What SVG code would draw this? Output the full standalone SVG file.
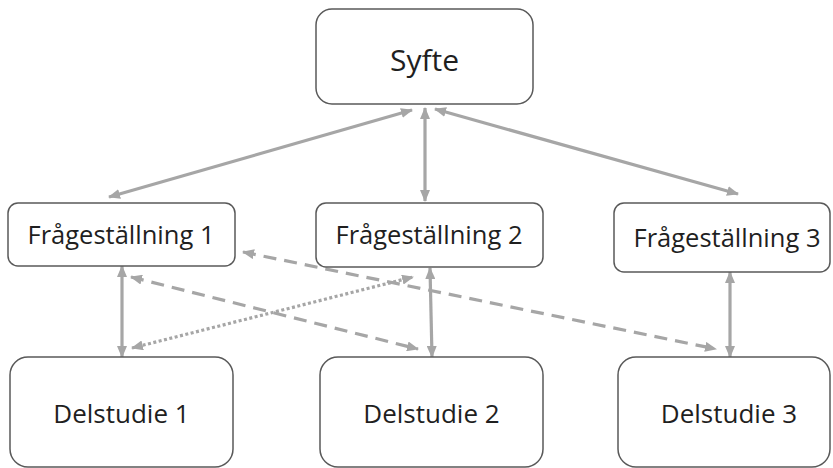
<svg xmlns="http://www.w3.org/2000/svg" width="833" height="468" viewBox="0 0 833 468">
<style>
.box{fill:#fff;stroke:#595959;stroke-width:1.5}
.lbl{font-family:"Open Sans","Noto Sans",sans-serif;fill:#1f1f1f;text-anchor:middle}
.c{fill:none;stroke:#a6a6a6;stroke-width:3.2}
.dash{stroke-dasharray:13 8}
.dot{stroke-dasharray:3 2.5}
</style>
<defs>
<marker id="ah" markerUnits="userSpaceOnUse" markerWidth="12" markerHeight="10" refX="11" refY="5" orient="auto-start-reverse">
<path d="M0,0 L12,5 L0,10 z" fill="#a6a6a6"/>
</marker>
</defs>
<g id="connectors">
<line class="c" x1="412" y1="110" x2="109" y2="197" marker-start="url(#ah)" marker-end="url(#ah)"/>
<line class="c" x1="425" y1="108" x2="425" y2="201" marker-start="url(#ah)" marker-end="url(#ah)"/>
<line class="c" x1="435" y1="109" x2="738" y2="194" marker-start="url(#ah)" marker-end="url(#ah)"/>
<line class="c" x1="122" y1="266" x2="122" y2="357" marker-start="url(#ah)" marker-end="url(#ah)"/>
<line class="c" x1="430" y1="268" x2="432" y2="357" marker-start="url(#ah)" marker-end="url(#ah)"/>
<line class="c" x1="730" y1="272" x2="730" y2="357" marker-start="url(#ah)" marker-end="url(#ah)"/>
<line class="c dash" x1="243" y1="252" x2="716" y2="349" marker-start="url(#ah)" marker-end="url(#ah)"/>
<line class="c dash" x1="131" y1="277" x2="418" y2="349" marker-start="url(#ah)" marker-end="url(#ah)"/>
<line class="c dot" x1="132" y1="348" x2="413" y2="277" marker-start="url(#ah)" marker-end="url(#ah)"/>
</g>
<g id="syfte">
<rect class="box" x="316" y="9" width="217" height="95" rx="16"/>
<text class="lbl" x="424.5" y="71" font-size="30">Syfte</text>
</g>
<g id="fr1">
<rect class="box" x="8" y="203" width="227" height="63" rx="10"/>
<text class="lbl" x="121" y="244" font-size="25.5">Frågeställning 1</text>
</g>
<g id="fr2">
<rect class="box" x="316" y="203" width="227" height="64" rx="10"/>
<text class="lbl" x="429" y="244" font-size="25.5">Frågeställning 2</text>
</g>
<g id="fr3">
<rect class="box" x="614" y="203" width="216" height="69" rx="10"/>
<text class="lbl" x="727" y="247" font-size="25.5">Frågeställning 3</text>
</g>
<g id="del1">
<rect class="box" x="10" y="357" width="223" height="110" rx="18"/>
<text class="lbl" x="121.5" y="423" font-size="26">Delstudie 1</text>
</g>
<g id="del2">
<rect class="box" x="320" y="357" width="223" height="110" rx="18"/>
<text class="lbl" x="431.5" y="423" font-size="26">Delstudie 2</text>
</g>
<g id="del3">
<rect class="box" x="618" y="357" width="212" height="110" rx="18"/>
<text class="lbl" x="729" y="423" font-size="26">Delstudie 3</text>
</g>
</svg>
